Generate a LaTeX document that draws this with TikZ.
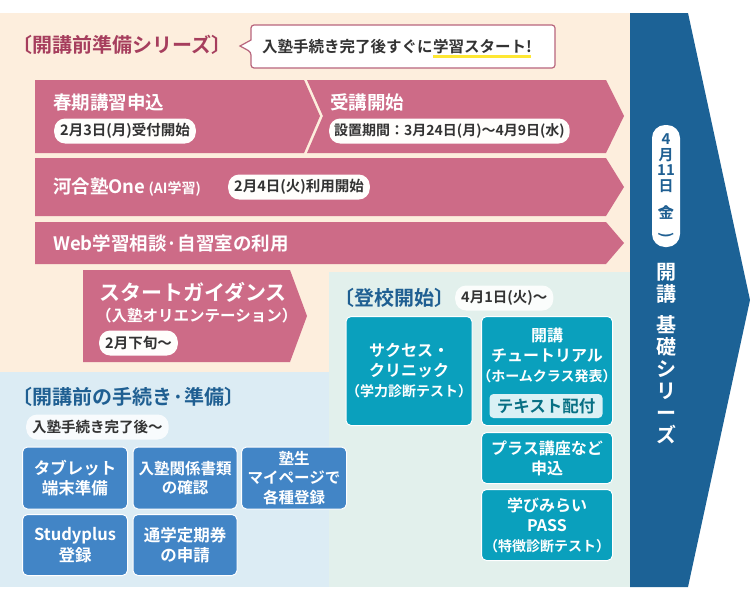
\documentclass[tikz,border=0pt]{standalone}
\usepackage{fontspec}
\usepackage{graphicx}
\setmainfont{Noto Sans CJK JP}[BoldFont={* Bold}]
\usetikzlibrary{calc}
\definecolor{beige}{HTML}{FDEEDD}
\definecolor{lblue}{HTML}{DCECF4}
\definecolor{mint}{HTML}{E2F0EC}
\definecolor{pinkA}{HTML}{CD6B87}
\definecolor{tpink}{HTML}{A63E5D}
\definecolor{teal}{HTML}{0AA0BD}
\definecolor{bblue}{HTML}{4285C6}
\definecolor{dblue}{HTML}{1C6296}
\definecolor{tblue}{HTML}{1F5F92}
\definecolor{txt}{HTML}{333333}
\newcommand{\fs}[1]{\fontsize{#1}{1.25\dimexpr #1pt\relax}\selectfont\bfseries}
\tikzset{
 pill/.style={fill=white!92!beige,rounded corners=11pt,inner xsep=6pt,minimum height=25pt,text=txt,font=\fs{14.5}},
 wlab/.style={text=white,font=\fs{18.5},anchor=west,inner sep=0pt},
 tbox/.style={fill=teal,draw=white,line width=1pt,rounded corners=5pt,text=white,align=center,font=\fs{16},inner sep=0pt},
 bbox/.style={fill=bblue,draw=white,line width=1pt,rounded corners=5pt,text=white,align=center,font=\fs{16.5},inner sep=0pt},
}
\begin{document}
\begin{tikzpicture}[x=1pt,y=-1pt]
\useasboundingbox (0,0) rectangle (750,600);
\fill[white] (0,0) rectangle (750,600);
% backgrounds
\fill[beige] (0,13) rectangle (632,372);
\fill[lblue] (0,372) rectangle (632,587);
\fill[mint] (329,272) rectangle (632,587);
% right arrow
\fill[dblue] (630,13) -- (688,13) -- (750,300) -- (688,587) -- (630,587) -- cycle;
\node[fill=white,rounded corners=13pt,minimum width=28pt,minimum height=122pt] (datepill) at (666,186) {};
\node[text=tblue,font=\fs{15},align=center,inner sep=0pt] (date) at (666,186) {4\\[-3pt]月\\[-3pt]11\\[-3pt]日\\[-4pt]\rotatebox{-90}{(}\\[-7pt]金\\[-4pt]\rotatebox{-90}{)}};
\node[text=white,font=\fs{20},align=center,inner sep=0pt] (kaiko) at (666,354) {開\\[-3pt]講\\[6pt]基\\[-3pt]礎\\[-3pt]シ\\[-3pt]リ\\[-3pt]ー\\[-3pt]ズ};
% title + bubble
\node[text=tpink,font=\fs{20},anchor=west,inner sep=0pt] (t1) at (12,45) {〔開講前準備シリーズ〕};
\draw[tpink!80,line width=1.2pt,fill=white,rounded corners=3pt] (251,25) -- (555,25) -- (555,68) -- (251,68) -- (251,52) [sharp corners]-- (240,46) -- (251,40) [rounded corners=3pt]-- cycle;
\node[text=txt,font=\fs{15.5},anchor=west,inner sep=0pt] (bub) at (262,47) {入塾手続き完了後すぐに};
\fill[yellow!85!orange!80] ($(bub.east)+(0,8)$) rectangle ($(bub.east)+(98,11)$);
\node[text=txt,font=\fs{15.5},anchor=west,inner sep=0pt] (bub2) at (bub.east) {学習スタート!};
% row 1
\fill[pinkA] (35,80) -- (304,80) -- (320,116) -- (304,153) -- (35,153) -- cycle;
\fill[pinkA] (307,80) -- (606,80) -- (624,116) -- (606,153) -- (307,153) -- (323,116) -- cycle;
\node[wlab] (r1a) at (53,102) {春期講習申込};
\node[pill,anchor=west] (p1a) at (54,131) {2月3日(月)受付開始};
\node[wlab] (r1b) at (330,102) {受講開始};
\node[pill,anchor=west,inner xsep=5pt,font=\fs{14}] (p1b) at (329,131) {設置期間：3月24日(月)～4月9日(水)};
% row 2
\fill[pinkA] (35,158) -- (606,158) -- (624,187) -- (606,216) -- (35,216) -- cycle;
\node[wlab] (r2) at (53,187) {河合塾One\,{\fs{14}(AI学習)}};
\node[pill,anchor=west] (p2) at (228,187) {2月4日(火)利用開始};
% row 3
\fill[pinkA] (35,222) -- (606,222) -- (624,243) -- (606,264) -- (35,264) -- cycle;
\node[wlab] (r3) at (53,243) {Web学習相談·自習室の利用};
% start guidance
\fill[pinkA] (83,270) -- (290,270) -- (307,316) -- (290,362) -- (83,362) -- cycle;
\node[text=white,font=\fs{21},anchor=west,inner sep=0pt] (sg) at (99,292) {スタートガイダンス};
\node[text=white,font=\fs{15.5},anchor=west,inner sep=0pt] (sg2) at (96,316) {（入塾オリエンテーション）};
\node[pill,anchor=west] (p3) at (99,343) {2月下旬～};
% touko
\node[text=tblue,font=\fs{20},anchor=west,inner sep=0pt] (t2) at (334,298) {〔登校開始〕};
\node[pill,anchor=west,fill=white!85!mint] (p4) at (455,298) {4月1日(火)～};
\node[tbox,minimum width=122pt,minimum height=109pt] (suc) at (409,371) {サクセス・\\クリニック\\{\fs{14}（学力診断テスト）}};
\node[tbox,minimum width=131pt,minimum height=109pt] (tut) at (547,371) {};
\node[text=white,font=\fs{16},align=center,inner sep=0pt] (tutt) at (547,355) {開講\\チュートリアル\\{\fs{14}（ホームクラス発表）}};
\node[fill=white!85!teal,rounded corners=4pt,text=teal!70!black,font=\fs{16.5},minimum width=113pt,minimum height=24pt,inner sep=0pt] (txtp) at (546,406) {テキスト配付};
\node[tbox,minimum width=131pt,minimum height=51pt] (plus) at (547,458) {プラス講座など\\申込};
\node[tbox,minimum width=131pt,minimum height=71pt] (pass) at (547,525) {学びみらい\\PASS\\{\fs{14}（特徴診断テスト）}};
% tetsuzuki
\node[text=tblue,font=\fs{20},anchor=west,inner sep=0pt] (t3) at (12,397) {〔開講前の手続き·準備〕};
\node[pill,anchor=west,fill=white!80!lblue] (p5) at (26,427) {入塾手続き完了後～};
\node[bbox,minimum width=105pt,minimum height=62pt] (b1) at (75,478) {タブレット\\端末準備};
\node[bbox,minimum width=104pt,minimum height=62pt,font=\fs{15.5}] (b2) at (185,478) {入塾関係書類\\の確認};
\node[bbox,minimum width=105pt,minimum height=62pt,font=\fs{15.5}] (b3) at (294,478) {塾生\\マイページで\\各種登録};
\node[bbox,minimum width=105pt,minimum height=61pt] (b4) at (75,545) {Studyplus\\登録};
\node[bbox,minimum width=104pt,minimum height=61pt] (b5) at (185,545) {通学定期券\\の申請};
\end{tikzpicture}
\end{document}
